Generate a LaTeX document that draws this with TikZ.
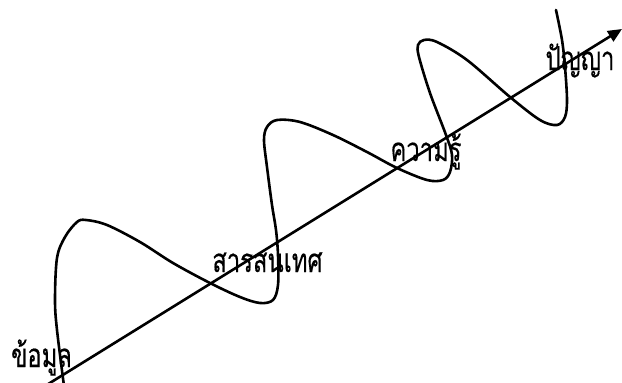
\documentclass[tikz,border=0pt]{standalone}
\usepackage{fontspec}
\newfontfamily\thaifont[Script=Thai, FakeStretch=0.72, FakeBold=0.35]{Loma}
\usetikzlibrary{arrows.meta}
\begin{document}
\begin{tikzpicture}[x=1pt,y=-1pt,
  wave/.style={line width=2.6pt, line join=round, line cap=round},
  axis/.style={line width=2.6pt, -{Triangle[length=14pt,width=12pt]}},
  lbl/.style={font=\thaifont\fontsize{33}{36}\selectfont, inner sep=0pt, anchor=base}]
\useasboundingbox (0,0) rectangle (622,383);
\fill[white] (0,0) rectangle (622,383);
\begin{scope}
\clip (0,0) rectangle (622,383);
\coordinate (start) at (45,386);
\coordinate (tip) at (622,29);
\draw[axis] (start) -- (tip);
\draw[wave] plot[smooth, tension=0.55] coordinates {
 (64,386) (57,330) (55,300) (57,258) (65,237) (77,222) (86,220)
 (107,225) (140,242) (173,263) (210,283) (240,297) (260,303)
 (273,300) (278,285) (278,255) (276,230) (272,205) (267,167) (264,140) (267,127) (277,120)
 (300,122) (333,135) (367,152) (397,168) (427,180) (443,180)
 (450,172) (452,155) (446,135) (430,93) (419,57) (418,45) (424,40)
 (437,42) (467,60) (510,97) (540,120) (557,125)
 (565,117) (567,100) (565,67) (562,40) (556,10)
};
\end{scope}
\node[lbl] (data) at (41.5,367) {ข้อมูล};
\node[lbl] (info) at (267.5,272) {สารสนเทศ};
\node[lbl] (know) at (426,161) {ความรู้};
\node[lbl] (wisdom) at (580,70) {ปัญญา};
\end{tikzpicture}
\end{document}
